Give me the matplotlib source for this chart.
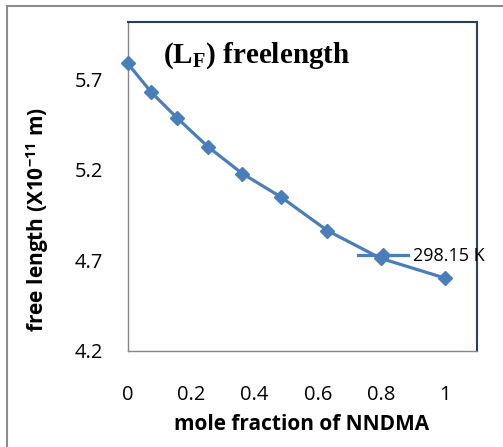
import matplotlib
matplotlib.use("Agg")
import matplotlib.pyplot as plt
from matplotlib.patches import Rectangle
from matplotlib.ticker import FuncFormatter

# ---- data ----
mole_fraction = [0.0, 0.075, 0.157, 0.253, 0.362, 0.485, 0.630, 0.798, 1.0]
free_length = [5.790, 5.629, 5.486, 5.329, 5.180, 5.049, 4.865, 4.712, 4.603]
series_label = "298.15 K"
x_ticks = [0, 0.2, 0.4, 0.6, 0.8, 1.0]
y_ticks = [4.2, 4.7, 5.2, 5.7]
title_text = r"(L$_{\mathit{F}}$) freelength"
x_label = "mole fraction of NNDMA"
y_label = r"free length (X10$^{\mathbf{-11}}$ m)"

plt.rcParams["font.family"] = ["Open Sans", "DejaVu Sans"]
plt.rcParams["mathtext.fontset"] = "custom"
plt.rcParams["mathtext.rm"] = "Open Sans"
plt.rcParams["mathtext.bf"] = "Open Sans:bold"
plt.rcParams["mathtext.it"] = "Liberation Serif:bold"

W, H = 503, 447
fig = plt.figure(figsize=(W / 100, H / 100), dpi=100)
fig.patch.set_facecolor("white")

left, right, top, bottom = 127.5, 476.5, 21.5, 351.0
ax = fig.add_axes([left / W, 1 - bottom / H, (right - left) / W, (bottom - top) / H])

blue = "#4a7ebb"
ax.plot(mole_fraction, free_length, color=blue, lw=2.3, marker="D", ms=7.5,
        mfc=blue, mec=blue, clip_on=False, zorder=5, label=series_label)

ax.set_xlim(0, 1.1)
ax.set_ylim(4.2, 6.02)
ax.set_xticks(x_ticks)
ax.set_yticks(y_ticks)
ax.xaxis.set_major_formatter(FuncFormatter(lambda v, p: f"{v:g}"))
ax.yaxis.set_major_formatter(FuncFormatter(lambda v, p: f"{v:.1f}"))
ax.tick_params(axis="both", length=0, labelsize=14.5, colors="black")
ax.tick_params(axis="y", pad=17.5)
ax.tick_params(axis="x", pad=24.5)

for s in ("left", "bottom"):
    ax.spines[s].set_color("#868686")
    ax.spines[s].set_linewidth(1.0)
for s in ("top", "right"):
    ax.spines[s].set_color("#243f60")
    ax.spines[s].set_linewidth(1.5)

ax.set_xlabel(x_label, fontsize=15, fontweight="bold")
ax.set_ylabel(y_label, fontsize=15, fontweight="bold")
ax.xaxis.set_label_coords(0.5, (bottom - 424) / (bottom - top))
ax.xaxis.label.set_verticalalignment("center")
ax.yaxis.set_label_coords((37.5 - left) / (right - left), (bottom - 220) / (bottom - top))
ax.yaxis.label.set_verticalalignment("center")

ax.text((163 - left) / (right - left), (bottom - 63) / (bottom - top), title_text,
        transform=ax.transAxes, ha="left", va="baseline",
        fontsize=21, fontweight="bold", family="Liberation Serif")

fs_leg = 13
leg = ax.legend(loc="center left", bbox_to_anchor=(358 / W, 1 - 256 / H),
                bbox_transform=fig.transFigure, frameon=False, fontsize=fs_leg,
                borderpad=0, borderaxespad=0, numpoints=1,
                handlelength=50 / (fs_leg * 100 / 72),
                handletextpad=5 / (fs_leg * 100 / 72))

fig.patches.append(Rectangle((7 / W, -0.1), 1.2, 1 - 6 / H + 0.1, fill=False,
                             edgecolor="#8c8c8c", lw=1.5, transform=fig.transFigure,
                             figure=fig))

fig.savefig("out.png", dpi=100, facecolor="white")
